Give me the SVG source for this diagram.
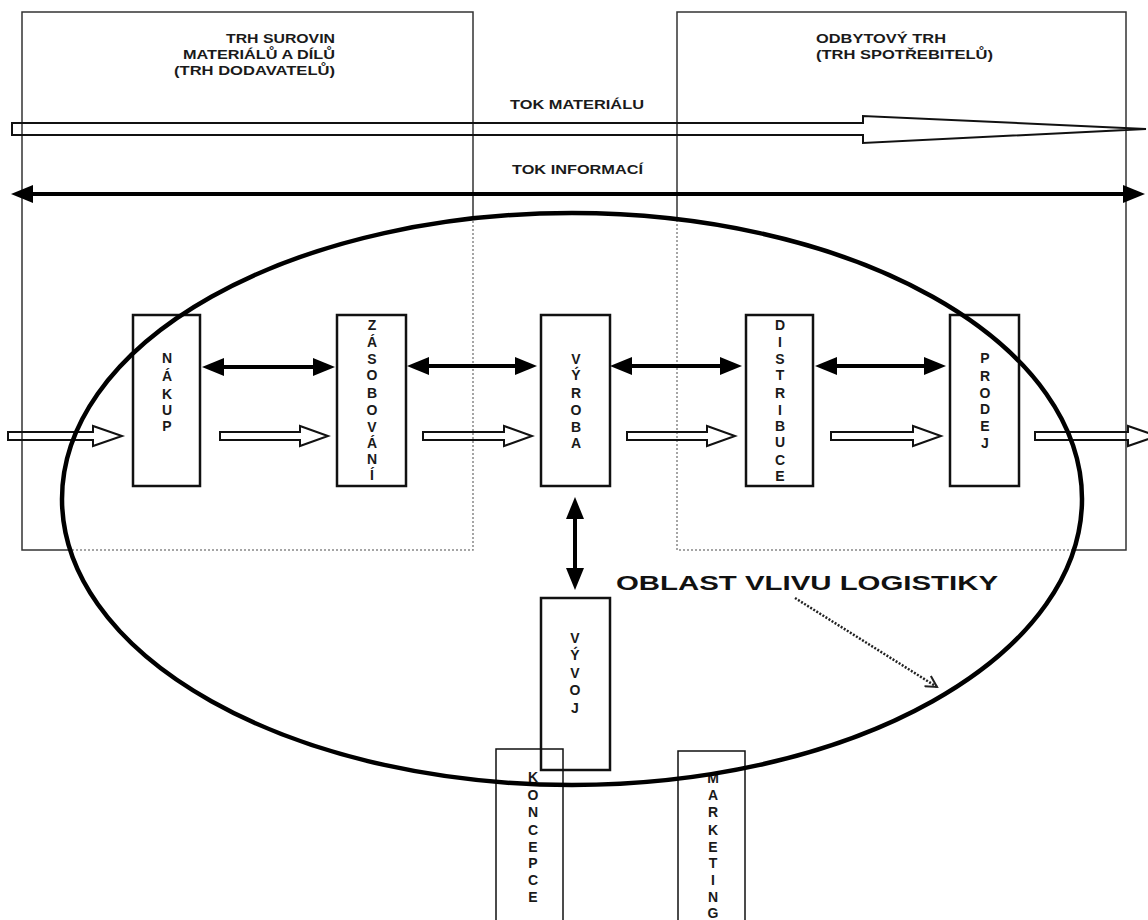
<svg xmlns="http://www.w3.org/2000/svg" width="1148" height="920" viewBox="0 0 1148 920">
<style>
.bg{fill:#fff}
.mk-solid{fill:none;stroke:#333;stroke-width:1.5}
.mk-dot{fill:none;stroke:#888;stroke-width:1.5;stroke-dasharray:2 2}
.hdr{font-family:"Liberation Sans",Arial,sans-serif;font-weight:bold;font-size:12.5px;fill:#1a1a1a}
.node{fill:none;stroke:#111;stroke-width:2.5}
.node-thin{fill:none;stroke:#111;stroke-width:1.5}
.lt{font-family:"Liberation Sans",Arial,sans-serif;font-weight:bold;font-size:14px;fill:#1a1a1a;text-anchor:middle}
.hollow{fill:none;stroke:#111;stroke-width:2;stroke-linejoin:miter}
.dbl{fill:none;stroke:#000;stroke-width:4}
.ell{fill:none;stroke:#000;stroke-width:4.5}
.big{font-family:"Liberation Sans",Arial,sans-serif;font-weight:bold;font-size:21px;fill:#111}
.dots{fill:none;stroke:#222;stroke-width:2.5;stroke-dasharray:2 1.6}
</style>
<defs>
<marker id="ah" viewBox="0 0 22 18" refX="12" refY="9" markerWidth="22" markerHeight="18" markerUnits="userSpaceOnUse" orient="auto-start-reverse">
<path d="M0,0 L22,9 L0,18 Z" fill="#000"/>
</marker>
<marker id="vopen" viewBox="0 0 14 14" refX="12" refY="7" markerWidth="14" markerHeight="14" markerUnits="userSpaceOnUse" orient="auto">
<path d="M1,1 L12,7 L1,13" fill="none" stroke="#222" stroke-width="2"/>
</marker>
<mask id="outside" maskUnits="userSpaceOnUse" x="0" y="0" width="1148" height="920">
<rect width="1148" height="920" fill="#fff"/>
<ellipse cx="572" cy="499" rx="510" ry="286" fill="#000"/>
</mask>
<mask id="inside" maskUnits="userSpaceOnUse" x="0" y="0" width="1148" height="920">
<rect width="1148" height="920" fill="#000"/>
<ellipse cx="572" cy="499" rx="510" ry="286" fill="#fff"/>
</mask>
</defs>
<rect class="bg" width="1148" height="920"/>

<g id="market-supply">
<rect class="mk-solid" x="22" y="12" width="451" height="538" mask="url(#outside)"/>
<rect class="mk-dot" x="22" y="12" width="451" height="538" mask="url(#inside)"/>
<text class="hdr" text-anchor="end"><tspan x="335" y="43" textLength="109" lengthAdjust="spacingAndGlyphs">TRH SUROVIN</tspan><tspan x="335" y="59" textLength="152" lengthAdjust="spacingAndGlyphs">MATERIÁLŮ A DÍLŮ</tspan><tspan x="335" y="75" textLength="161" lengthAdjust="spacingAndGlyphs">(TRH DODAVATELŮ)</tspan></text>
</g>

<g id="market-consumer">
<rect class="mk-solid" x="677" y="12" width="449" height="538" mask="url(#outside)"/>
<rect class="mk-dot" x="677" y="12" width="449" height="538" mask="url(#inside)"/>
<text class="hdr"><tspan x="816" y="43" textLength="130" lengthAdjust="spacingAndGlyphs">ODBYTOVÝ TRH</tspan><tspan x="816" y="59" textLength="177" lengthAdjust="spacingAndGlyphs">(TRH SPOTŘEBITELŮ)</tspan></text>
</g>

<g id="flows">
<path class="hollow" d="M12,123 H863 V116 L1146,129 L863,143 V135 H12 Z"/>
<text class="hdr" x="510" y="109" textLength="134" lengthAdjust="spacingAndGlyphs">TOK MATERIÁLU</text>
<line class="dbl" x1="21" y1="194" x2="1135" y2="194" marker-start="url(#ah)" marker-end="url(#ah)"/>
<text class="hdr" x="512" y="174" textLength="131" lengthAdjust="spacingAndGlyphs">TOK INFORMACÍ</text>
</g>

<g id="node-nakup">
<rect class="node" x="133" y="315" width="67" height="171"/>
<text class="lt"><tspan x="167" y="363">N</tspan><tspan x="167" y="381">Á</tspan><tspan x="167" y="399">K</tspan><tspan x="167" y="415">U</tspan><tspan x="167" y="431">P</tspan></text>
</g>
<g id="node-zasobovani">
<rect class="node" x="337" y="315" width="69" height="171"/>
<text class="lt"><tspan x="372" y="330">Z</tspan><tspan x="372" y="347">Á</tspan><tspan x="372" y="364">S</tspan><tspan x="372" y="380">O</tspan><tspan x="372" y="398">B</tspan><tspan x="372" y="415">O</tspan><tspan x="372" y="432">V</tspan><tspan x="372" y="448">Á</tspan><tspan x="372" y="464">N</tspan><tspan x="372" y="480">Í</tspan></text>
</g>
<g id="node-vyroba">
<rect class="node" x="541" y="315" width="69" height="171"/>
<text class="lt"><tspan x="576" y="364">V</tspan><tspan x="576" y="380">Ý</tspan><tspan x="576" y="398">R</tspan><tspan x="576" y="415">O</tspan><tspan x="576" y="432">B</tspan><tspan x="576" y="448">A</tspan></text>
</g>
<g id="node-distribuce">
<rect class="node" x="746" y="315" width="67" height="171"/>
<text class="lt"><tspan x="780" y="330">D</tspan><tspan x="780" y="347">I</tspan><tspan x="780" y="364">S</tspan><tspan x="780" y="380">T</tspan><tspan x="780" y="398">R</tspan><tspan x="780" y="415">I</tspan><tspan x="780" y="431">B</tspan><tspan x="780" y="447">U</tspan><tspan x="780" y="465">C</tspan><tspan x="780" y="481">E</tspan></text>
</g>
<g id="node-prodej">
<rect class="node" x="950" y="315" width="69" height="171"/>
<text class="lt"><tspan x="985" y="363">P</tspan><tspan x="985" y="381">R</tspan><tspan x="985" y="398">O</tspan><tspan x="985" y="414">D</tspan><tspan x="985" y="431">E</tspan><tspan x="985" y="448">J</tspan></text>
</g>
<g id="node-vyvoj">
<rect class="node" x="541" y="598" width="69" height="172"/>
<text class="lt"><tspan x="575" y="643">V</tspan><tspan x="575" y="660">Ý</tspan><tspan x="575" y="678">V</tspan><tspan x="575" y="695">O</tspan><tspan x="575" y="713">J</tspan></text>
</g>
<g id="node-koncepce">
<rect class="node-thin" x="496" y="749" width="67" height="190"/>
<text class="lt"><tspan x="533" y="782">K</tspan><tspan x="533" y="800">O</tspan><tspan x="533" y="817">N</tspan><tspan x="533" y="835">C</tspan><tspan x="533" y="852">E</tspan><tspan x="533" y="868">P</tspan><tspan x="533" y="885">C</tspan><tspan x="533" y="902">E</tspan></text>
</g>
<g id="node-marketing">
<rect class="node-thin" x="678" y="751" width="67" height="190"/>
<text class="lt"><tspan x="713" y="783">M</tspan><tspan x="713" y="800">A</tspan><tspan x="713" y="817">R</tspan><tspan x="713" y="835">K</tspan><tspan x="713" y="852">E</tspan><tspan x="713" y="868">T</tspan><tspan x="713" y="885">I</tspan><tspan x="713" y="902">N</tspan><tspan x="713" y="918">G</tspan></text>
</g>

<g id="connectors">
<path class="hollow" d="M8,432 H93 V426 L122,436 L93,446 V440 H8 Z"/>
<path class="hollow" d="M220,432 H300 V426 L328,436 L300,446 V440 H220 Z"/>
<path class="hollow" d="M423,432 H504 V426 L532,436 L504,446 V440 H423 Z"/>
<path class="hollow" d="M627,432 H707 V426 L735,436 L707,446 V440 H627 Z"/>
<path class="hollow" d="M831,432 H913 V426 L941,436 L913,446 V440 H831 Z"/>
<path class="hollow" d="M1035,432 H1128 V426 L1157,436 L1128,446 V440 H1035 Z"/>
<line class="dbl" x1="212" y1="367" x2="325" y2="367" marker-start="url(#ah)" marker-end="url(#ah)"/>
<line class="dbl" x1="417" y1="366" x2="527" y2="366" marker-start="url(#ah)" marker-end="url(#ah)"/>
<line class="dbl" x1="620" y1="366" x2="732" y2="366" marker-start="url(#ah)" marker-end="url(#ah)"/>
<line class="dbl" x1="825" y1="366" x2="936" y2="366" marker-start="url(#ah)" marker-end="url(#ah)"/>
<line class="dbl" x1="575" y1="507" x2="575" y2="580" stroke-width="5" marker-start="url(#ah)" marker-end="url(#ah)"/>
</g>

<g id="logistics-area">
<ellipse class="ell" cx="572" cy="499" rx="510" ry="286"/>
<text class="big" x="616" y="590" textLength="382" lengthAdjust="spacingAndGlyphs">OBLAST VLIVU LOGISTIKY</text>
<line class="dots" x1="795" y1="598" x2="937" y2="687" marker-end="url(#vopen)"/>
</g>
</svg>
